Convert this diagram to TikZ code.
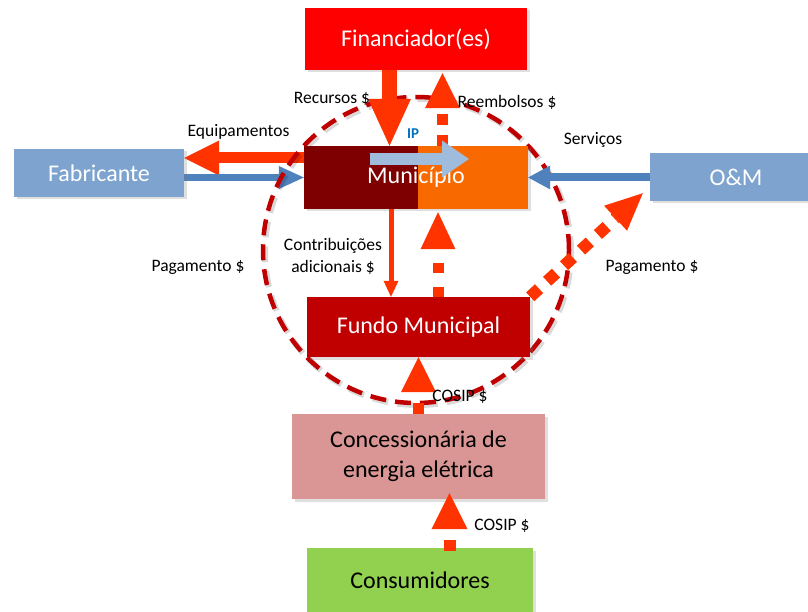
\documentclass[tikz,border=0pt]{standalone}
\usepackage{fontspec}
\setmainfont{Carlito}
\usetikzlibrary{arrows.meta,shadows}
\definecolor{cFin}{HTML}{FF0000}
\definecolor{cBlueBox}{HTML}{7DA3CE}
\definecolor{cMunL}{HTML}{7F0000}
\definecolor{cMunR}{HTML}{F86A00}
\definecolor{cFundo}{HTML}{C00000}
\definecolor{cConc}{HTML}{D99694}
\definecolor{cCons}{HTML}{92D050}
\definecolor{cArrow}{HTML}{FF3300}
\definecolor{cBlueArr}{HTML}{4F81BD}
\definecolor{cIP}{HTML}{A0BCDD}
\definecolor{cIPtxt}{HTML}{0070C0}
\definecolor{cCirc}{HTML}{C00000}
\pgfdeclarelayer{bg}
\pgfsetlayers{bg,main}
\begin{document}
\begin{tikzpicture}[x=1pt,y=-1pt,
  box/.style={draw=none, inner sep=0pt, align=center,
    font=\fontsize{24}{30}\selectfont,
    drop shadow={shadow xshift=2.5pt,shadow yshift=-2.5pt,opacity=0.25}},
  lbl/.style={inner sep=0pt, align=center, font=\fontsize{17.5}{22}\selectfont},
  flow/.style={draw=cArrow, line cap=butt},
  blueflow/.style={draw=cBlueArr, line cap=butt},
  circ/.style={draw=cCirc, line width=4.5pt, dash pattern=on 16pt off 9pt}
]
\useasboundingbox (0,0) rectangle (808,612);

% boxes
\node[box, fill=cFin, text=white, minimum width=222pt, minimum height=62pt] (fin) at (416,39) {Financiador(es)};
\node[box, fill=cBlueBox, text=white, minimum width=170pt, minimum height=48pt] (fab) at (99,173) {Fabricante};
\node[box, fill=cBlueBox, text=white, minimum width=172pt, minimum height=48pt] (om) at (736,177) {O\&M};
\node[box, fill=cMunR, minimum width=224pt, minimum height=63pt] (mun) at (416,177.5) {};
\fill[cMunL] (mun.south west) rectangle ([xshift=2pt]mun.north);
\node[font=\fontsize{24}{30}\selectfont, text=white, inner sep=0pt] (muntxt) at (mun.center) {Município};
\node[box, fill=cFundo, text=white, minimum width=223pt, minimum height=60pt] (fundo) at (418.5,327) {Fundo Municipal};
\node[box, fill=cConc, text=black, minimum width=253pt, minimum height=85pt] (conc) at (418.5,456.5) {Concessionária de\\energia elétrica};
\node[box, fill=cCons, text=black, minimum width=226pt, minimum height=64pt] (cons) at (420,580) {Consumidores};

\coordinate (cc) at (416,250);

\begin{pgfonlayer}{bg}
  \draw[flow, line width=11pt, -{Triangle[length=35pt,width=35pt,line width=0pt]}]
    ([yshift=19.5pt]mun.west) -- ([yshift=15pt]fab.east);
  \draw[blueflow, line width=7.5pt, -{Triangle[length=25pt,width=23pt,line width=0pt]}]
    ([yshift=-4.5pt]fab.east) -- (mun.west);
  \draw[black, opacity=0.15, line width=6pt, dash pattern=on 16pt off 9pt]
    ([xshift=2pt,yshift=-2pt]cc) circle[radius=153pt];
  \draw[circ] (cc) circle[radius=153pt];
\end{pgfonlayer}

% other connectors
\draw[flow, line width=15pt, -{Triangle[length=47pt,width=43pt,line width=0pt]}]
  ([xshift=-26.5pt]fin.south) -- ([xshift=-26.5pt]mun.north);
\draw[flow, line width=11pt, dash pattern=on 11pt off 10pt, -{Triangle[length=35pt,width=35pt,line width=0pt]}]
  ([xshift=26.5pt]mun.north) -- ([xshift=26.5pt,yshift=-3pt]fin.south);
\draw[blueflow, line width=8pt, -{Triangle[length=22pt,width=24pt,line width=0pt]}]
  ([yshift=-0.5pt]om.west) -- (mun.east);
\draw[draw=cIP, line cap=butt, line width=12pt, -{Triangle[length=27pt,width=37pt,line width=0pt]}]
  ([xshift=-46pt,yshift=18.5pt]mun.center) -- ([xshift=53pt,yshift=18.5pt]mun.center);
\draw[flow, line width=5pt, -{Triangle[length=16pt,width=15pt,line width=0pt]}]
  ([xshift=-25pt]mun.south) -- ([xshift=-27.5pt]fundo.north);
\draw[flow, line width=11pt, dash pattern=on 10pt off 14pt, -{Triangle[length=37pt,width=35pt,line width=0pt]}]
  ([xshift=19.5pt]fundo.north) -- ([xshift=22pt,yshift=-3pt]mun.south);
\draw[flow, line width=12pt, dash pattern=on 12pt off 11pt, -{Triangle[length=37pt,width=34pt,line width=0pt]}]
  (fundo.north east) -- ([xshift=-7pt,yshift=8pt]om.south west);
\draw[flow, line width=11pt, dash pattern=on 11pt off 30pt, -{Triangle[length=35pt,width=35pt,line width=0pt]}]
  (conc.north) -- (fundo.south);
\draw[flow, line width=12pt, dash pattern=on 11pt off 30pt, -{Triangle[length=36pt,width=36pt,line width=0pt]}]
  ([xshift=29.5pt,yshift=-3pt]cons.north) -- ([xshift=31pt,yshift=6pt]conc.south);

% labels
\node[lbl] (lrec) at (332,99) {Recursos \$};
\node[lbl] (lree) at (507,102) {Reembolsos \$};
\node[lbl] (lequ) at (238.5,132) {Equipamentos};
\node[lbl] (lser) at (593,140) {Serviços};
\node[lbl] (lpagL) at (198,267) {Pagamento \$};
\node[lbl] (lpagR) at (652,267) {Pagamento \$};
\node[lbl] (lcon) at (333,256) {Contribuições\\adicionais \$};
\node[lbl] (lcos1) at (460,397) {COSIP \$};
\node[lbl] (lcos2) at (502,526) {COSIP \$};
\node[inner sep=0pt, font=\bfseries\fontsize{15}{18}\selectfont, text=cIPtxt] (lip) at (413,134) {IP};
\end{tikzpicture}
\end{document}
